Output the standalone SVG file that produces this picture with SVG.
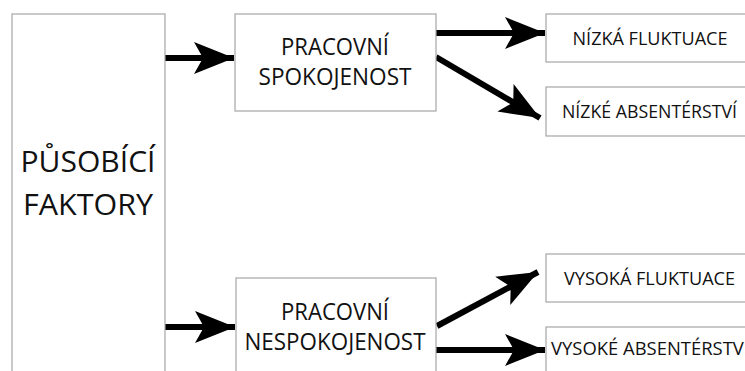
<svg xmlns="http://www.w3.org/2000/svg" width="745" height="371" viewBox="0 0 745 371">
<style>
.box{fill:#fff;stroke:#a6a6a6;stroke-width:1.2}
.t{font-family:"Open Sans","Noto Sans",sans-serif;fill:#111;text-anchor:middle;font-weight:500}
.big{font-size:30px}
.mid{font-size:23px}
.sm{font-size:18px}
.c{stroke:#000;stroke-width:6;fill:none}
</style>
<defs>
<marker id="ah" markerUnits="userSpaceOnUse" markerWidth="42" markerHeight="34" refX="40" refY="16" orient="auto" viewBox="0 0 42 32">
<path d="M0,0 L40,16 L0,32 L9,16 Z" fill="#000"/>
</marker>
</defs>
<rect width="745" height="371" fill="#fff"/>
<g id="connectors">
<line class="c" x1="165" y1="58" x2="234" y2="58" marker-end="url(#ah)"/>
<line class="c" x1="165" y1="327" x2="235" y2="327" marker-end="url(#ah)"/>
<line class="c" x1="436" y1="33" x2="545" y2="33" marker-end="url(#ah)"/>
<line class="c" x1="436" y1="57" x2="540" y2="118" marker-end="url(#ah)"/>
<line class="c" x1="437" y1="326" x2="538" y2="272" marker-end="url(#ah)"/>
<line class="c" x1="436" y1="350" x2="545" y2="350" marker-end="url(#ah)"/>
</g>
<g id="pusobici">
<rect class="box" x="12" y="14" width="153" height="370"/>
<text class="t big" x="88" y="172" textLength="135" lengthAdjust="spacingAndGlyphs">PŮSOBÍCÍ</text>
<text class="t big" x="88" y="215" textLength="130" lengthAdjust="spacingAndGlyphs">FAKTORY</text>
</g>
<g id="spokojenost">
<rect class="box" x="235" y="14" width="201" height="97"/>
<text class="t mid" x="335" y="55" textLength="108" lengthAdjust="spacingAndGlyphs">PRACOVNÍ</text>
<text class="t mid" x="335" y="85" textLength="153" lengthAdjust="spacingAndGlyphs">SPOKOJENOST</text>
</g>
<g id="nespokojenost">
<rect class="box" x="236" y="278" width="200" height="110"/>
<text class="t mid" x="335" y="320" textLength="108" lengthAdjust="spacingAndGlyphs">PRACOVNÍ</text>
<text class="t mid" x="335" y="350" textLength="181" lengthAdjust="spacingAndGlyphs">NESPOKOJENOST</text>
</g>
<g id="nizka-fluktuace">
<rect class="box" x="546" y="14" width="210" height="48"/>
<text class="t sm" x="650" y="45" textLength="155" lengthAdjust="spacingAndGlyphs">NÍZKÁ FLUKTUACE</text>
</g>
<g id="nizke-absenterstvi">
<rect class="box" x="546" y="87" width="210" height="49"/>
<text class="t sm" x="649.5" y="118" textLength="175" lengthAdjust="spacingAndGlyphs">NÍZKÉ ABSENTÉRSTVÍ</text>
</g>
<g id="vysoka-fluktuace">
<rect class="box" x="546" y="254" width="210" height="48"/>
<text class="t sm" x="649.5" y="285" textLength="171" lengthAdjust="spacingAndGlyphs">VYSOKÁ FLUKTUACE</text>
</g>
<g id="vysoke-absenterstvi">
<rect class="box" x="546" y="327" width="210" height="60"/>
<text class="t sm" x="551" y="355" style="text-anchor:start" textLength="198" lengthAdjust="spacingAndGlyphs">VYSOKÉ ABSENTÉRSTVÍ</text>
</g>
</svg>
